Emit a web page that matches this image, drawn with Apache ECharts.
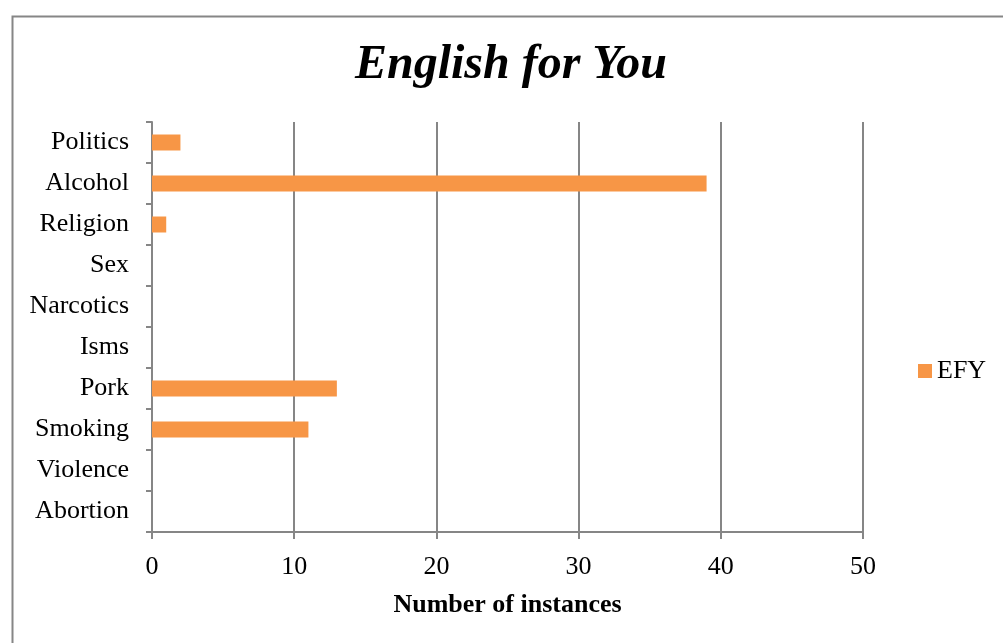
<!DOCTYPE html>
<html>
<head>
<meta charset="utf-8">
<script src="https://cdn.jsdelivr.net/npm/echarts@6/dist/echarts.min.js"></script>
<style>
html,body{margin:0;padding:0;background:#fff;}
#chart{width:1003px;height:643px;}
</style>
</head>
<body>
<div id="chart"></div>
<script>
const titleText = 'English for You';
const categories = ['Abortion','Violence','Smoking','Pork','Isms','Narcotics','Sex','Religion','Alcohol','Politics'];
const seriesName = 'EFY';
const values = [0,0,11,13,0,0,0,1,39,2];
const xMin = 0, xMax = 50, xInterval = 10;
const xAxisName = 'Number of instances';

const serif = '"Liberation Serif","Times New Roman",serif';
const gray = '#868686';
const chart = echarts.init(document.getElementById('chart'), null, {renderer:'canvas'});
chart.setOption({
  backgroundColor:'#fff',
  animation:false,
  graphic:[{
    type:'rect', left:10, top:14, shape:{x:0,y:0,width:1010,height:650},
    style:{fill:'none', stroke:gray, lineWidth:2}, silent:true, z:-1
  }],
  title:{
    text:titleText, left:511, textAlign:'center', top:42, padding:0,
    textStyle:{fontFamily:serif, fontSize:48, fontWeight:'bold', fontStyle:'italic', color:'#000'}
  },
  legend:{
    data:[seriesName], left:918, top:358, padding:0, itemWidth:14, itemHeight:14, itemGap:6,
    icon:'rect',
    textStyle:{fontFamily:serif, fontSize:26, color:'#000', padding:[0,0,0,0]}
  },
  grid:{left:152, right:140, top:122, bottom:111, containLabel:false},
  xAxis:{
    type:'value', min:xMin, max:xMax, interval:xInterval,
    name:xAxisName, nameLocation:'middle', nameGap:60,
    nameTextStyle:{fontFamily:serif, fontSize:26, fontWeight:'bold', color:'#000'},
    axisLine:{show:true, lineStyle:{color:gray, width:2}},
    axisTick:{show:true, length:7, lineStyle:{color:gray, width:2}},
    axisLabel:{fontFamily:serif, fontSize:26, color:'#000', margin:22},
    splitLine:{show:true, lineStyle:{color:gray, width:2}}
  },
  yAxis:{
    type:'category', data:categories,
    axisLine:{show:true, lineStyle:{color:gray, width:2}},
    axisTick:{show:true, length:6, alignWithLabel:false, lineStyle:{color:gray, width:2}},
    axisLabel:{fontFamily:serif, fontSize:26, color:'#000', margin:23, padding:[6,0,0,0]},
    splitLine:{show:false}
  },
  series:[{
    name:seriesName, type:'bar', data:values, barWidth:16,
    itemStyle:{color:'#F79646'}
  }]
});
</script>
</body>
</html>
